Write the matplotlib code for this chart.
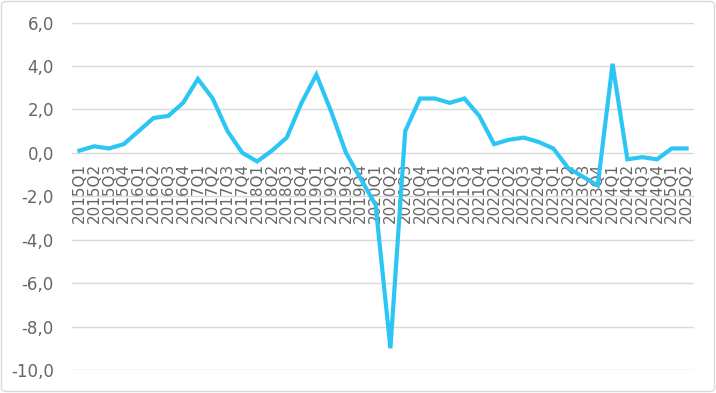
import matplotlib.pyplot as plt
from matplotlib.patches import FancyBboxPatch
from matplotlib.ticker import FuncFormatter

# trimestres 2015Q1 .. 2025Q2
quarters = [f"{y}Q{q}" for y in range(2015, 2026) for q in range(1, 5)][:42]
values = [0.1, 0.3, 0.2, 0.4, 1.0, 1.6, 1.7, 2.3, 3.4, 2.5,
          1.0, 0.0, -0.4, 0.1, 0.7, 2.3, 3.6, 1.9, 0.0, -1.2,
          -2.4, -9.0, 1.0, 2.5, 2.5, 2.3, 2.5, 1.7, 0.4, 0.6,
          0.7, 0.5, 0.2, -0.7, -1.1, -1.5, 4.1, -0.3, -0.2, -0.3,
          0.2, 0.2]
yticks = [-10, -8, -6, -4, -2, 0, 2, 4, 6]

plt.rcParams['font.family'] = ['DejaVu Sans']

fig = plt.figure(figsize=(7.16, 3.93), dpi=100)
ax = fig.add_axes([72 / 716, 23 / 393, 622 / 716, 347.5 / 393])

for s in ax.spines.values():
    s.set_visible(False)
ax.spines['bottom'].set_position(('data', 0))

x = list(range(len(quarters)))
ax.plot(x, values, color='#2CC6F5', lw=3, solid_joinstyle='miter', zorder=3)

ax.set_ylim(-10, 6)
ax.set_xlim(-0.5, len(quarters) - 0.5)
ax.set_yticks(yticks)
ax.yaxis.set_major_formatter(FuncFormatter(lambda v, p: f"{v:.1f}".replace('.', ',')))
ax.set_xticks(x)
ax.set_xticklabels(quarters, rotation=90, va='top', ha='center')

ax.grid(axis='y', color='#D9D9D9', lw=1)
ax.set_axisbelow(True)
ax.tick_params(axis='both', length=0, colors='#666666')
ax.tick_params(axis='x', labelsize=11, pad=7)
ax.tick_params(axis='y', labelsize=12, pad=13)

fig.patches.append(FancyBboxPatch((1.5 / 716, 1.5 / 393), 713 / 716, 390 / 393,
                                  boxstyle='round,pad=0,rounding_size=0.008',
                                  transform=fig.transFigure, fill=False,
                                  ec='#D9D9D9', lw=1))

fig.savefig('out.png', dpi=100)
